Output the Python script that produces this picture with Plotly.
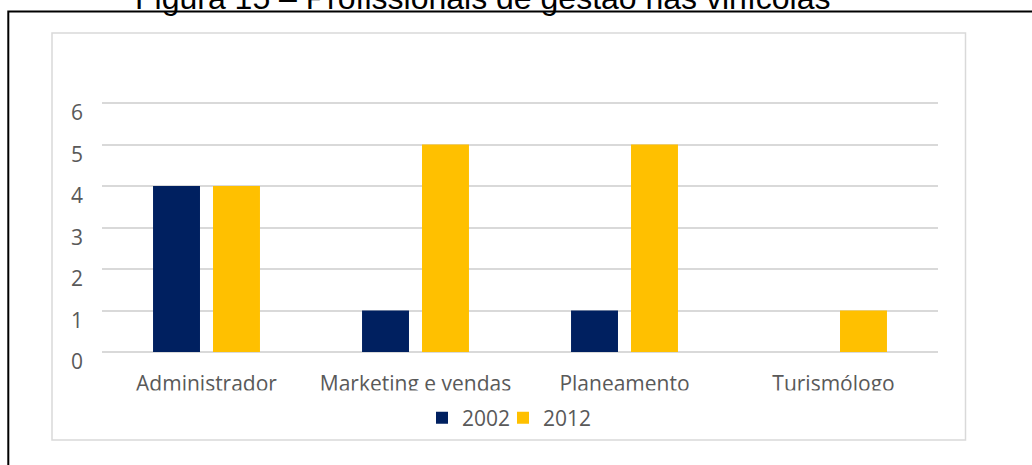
import plotly.graph_objects as go

categories = ["Administrador", "Marketing e vendas", "Planeamento", "Turismólogo"]
series_names = ["2002", "2012"]
values_2002 = [4, 1, 1, 0]
values_2012 = [4, 5, 5, 1]
y_ticks = [0, 1, 2, 3, 4, 5, 6]
title_text = "Figura 15 – Profissionais de gestão nas vinícolas"

W, H = 1032, 465
ML, MR, MT, MB = 102, 94, 100, 113
PW, PH = W - ML - MR, H - MT - MB
UNIT = 41.5                      # pixels per y unit in the reference
Y_TOP = PH / UNIT                # slightly above 6 so the top gridline is drawn


def px_x(p):
    return (p - ML) / PW


def px_y(p):
    return (H - MB - p) / PH


TXT = "#595959"
GRID = "#d9d9d9"
FONT = "Open Sans"

fig = go.Figure()
fig.add_trace(go.Bar(name=series_names[0], x=categories, y=values_2002,
                     marker=dict(color="#002060", line=dict(width=0)),
                     legendwidth=36))
fig.add_trace(go.Bar(name=series_names[1], x=categories, y=values_2012,
                     marker=dict(color="#FFC000", line=dict(width=0))))

fig.update_layout(
    width=W, height=H,
    margin=dict(l=ML, r=MR, t=MT, b=MB, pad=0),
    paper_bgcolor="white", plot_bgcolor="white",
    barmode="group", bargap=0.426, bargroupgap=0.217,
    font=dict(family=FONT, size=21, color=TXT),
    showlegend=True,
    legend=dict(orientation="h", x=px_x(509.5), xanchor="center",
                y=px_y(418), yanchor="middle",
                font=dict(family=FONT, size=21, color=TXT),
                bgcolor="rgba(0,0,0,0)", itemwidth=30,
                tracegroupgap=0),
    xaxis=dict(showgrid=False, zeroline=False, showline=False, ticks="",
               tickfont=dict(family=FONT, size=21, color=TXT),
               ticklabelstandoff=17),
    yaxis=dict(range=[0, Y_TOP], tickvals=y_ticks, ticktext=[str(v) for v in y_ticks],
               showgrid=True, gridcolor=GRID, gridwidth=1.5,
               zeroline=True, zerolinecolor=GRID, zerolinewidth=1.5,
               showline=False, ticks="",
               tickfont=dict(family=FONT, size=21, color=TXT),
               ticklabelstandoff=18, ticklabelshift=10),
)

shapes = [
    # outer black frame (extends beyond the picture)
    dict(type="rect", xref="paper", yref="paper",
         x0=px_x(8.3), x1=px_x(1045), y0=px_y(11.5), y1=px_y(480),
         line=dict(color="black", width=2), fillcolor="rgba(0,0,0,0)", layer="below"),
    # chart area border
    dict(type="rect", xref="paper", yref="paper",
         x0=px_x(52), x1=px_x(965.5), y0=px_y(33), y1=px_y(440),
         line=dict(color=GRID, width=1.5), fillcolor="rgba(0,0,0,0)", layer="below"),
    # clipping of category labels (as in the reference)
    dict(type="rect", xref="paper", yref="paper",
         x0=px_x(104), x1=px_x(936), y0=px_y(390.5), y1=px_y(403),
         line=dict(width=0), fillcolor="white", layer="above"),
]
fig.update_layout(shapes=shapes)

fig.add_annotation(text=title_text, xref="paper", yref="paper",
                   x=px_x(482.7), y=px_y(18), xanchor="center", yanchor="bottom",
                   showarrow=False,
                   font=dict(family="Liberation Sans, Arial", size=32, color="black"))

fig.write_html("out.html", config={"displayModeBar": False},
               post_script="document.body.style.margin='0';document.body.style.padding='0';")
